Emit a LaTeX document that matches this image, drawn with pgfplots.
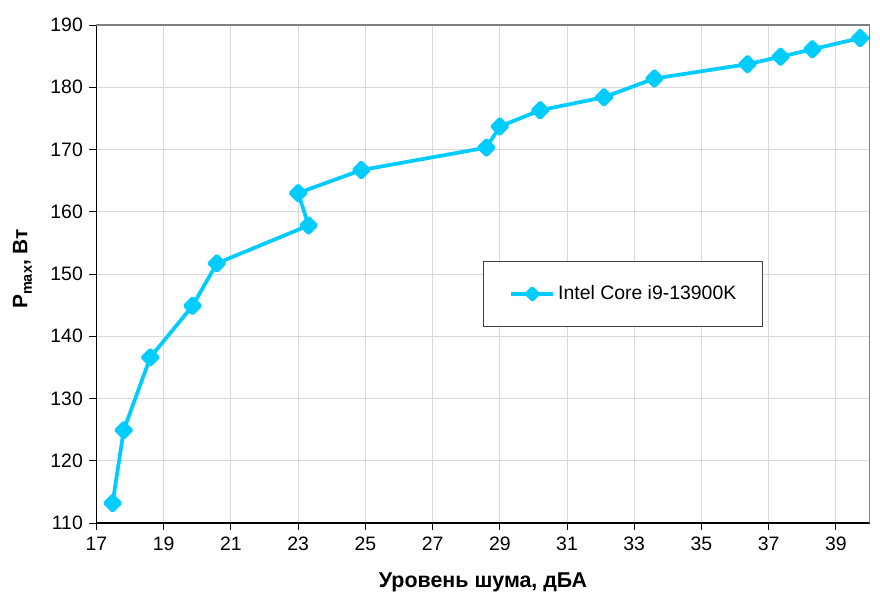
\documentclass[border=0pt]{standalone}
\usepackage{fontspec}
\setmainfont{Liberation Sans}
\usepackage{pgfplots}
\pgfplotsset{compat=1.18}
\definecolor{ser}{RGB}{0,204,255}
\definecolor{gridc}{RGB}{217,217,217}
\pgfplotstableread{
x y
17.48 113.2
17.81 124.9
18.6 136.6
19.86 144.9
20.58 151.7
23.31 157.8
23.0 163.0
24.88 166.7
28.6 170.3
29.0 173.7
30.2 176.3
32.1 178.4
33.6 181.4
36.37 183.7
37.35 184.9
38.3 186.1
39.72 187.9
}\datatable
\begin{document}
\fontsize{19.5}{23}\selectfont
\begin{tikzpicture}
\path[use as bounding box] (-96.5bp,-77bp) rectangle (783.5bp,523bp);
\begin{axis}[
  at={(0,0)}, anchor=south west,
  scale only axis, width=773bp, height=498bp,
  xmin=17, xmax=40, ymin=110, ymax=190,
  xtick={17,19,...,39}, ytick={110,120,...,190},
  axis x line*=bottom, axis y line*=left,
  axis line style={black, line width=1.5bp, -},
  grid=major, grid style={gridc, line width=0.9bp},
  tick align=outside, major tick length=7bp,
  tick style={black, line width=0.9bp},
  /pgf/number format/assume math mode=true,
  ticklabel style={font=\fontsize{19.5}{23}\selectfont},
  clip=false,
  xlabel={\textbf{Уровень шума, дБА}},
  ylabel={\textbf{P{\fontsize{14.5}{16}\selectfont\raisebox{-0.3em}{max}}, Вт}},
  xlabel style={at={(axis description cs:0.5,-0.1305)}, anchor=base, font=\fontsize{21.5}{25}\selectfont},
  ylabel style={at={(axis description cs:-0.0893,0.51)}, anchor=base, font=\fontsize{21}{25}\selectfont},
  legend style={at={(rel axis cs:0.5,0.526)}, anchor=north west,
    draw=black!75, line width=0.8pt, inner xsep=26bp, inner ysep=24bp,
    nodes={inner sep=0pt}, column sep=3bp,
    font=\fontsize{19.5}{23}\selectfont},
  legend cell align=left,
  legend image code/.code={
    \draw[mark repeat=2, mark phase=2, #1, mark size=4bp] plot coordinates {(0bp,0bp) (21bp,0bp) (42bp,0bp)};
  },
]
\draw[gray, line width=1.5bp] (rel axis cs:0,1) -- (rel axis cs:1,1) -- (rel axis cs:1,0);
\addplot[ser, line width=3.75bp, line join=round, mark=square*,
  mark size=5.3bp, mark options={rotate=45, draw=none, fill=ser}]
  table[x=x, y=y] {\datatable};
\addlegendentry{Intel Core i9-13900K}
\end{axis}
\end{tikzpicture}
\end{document}
